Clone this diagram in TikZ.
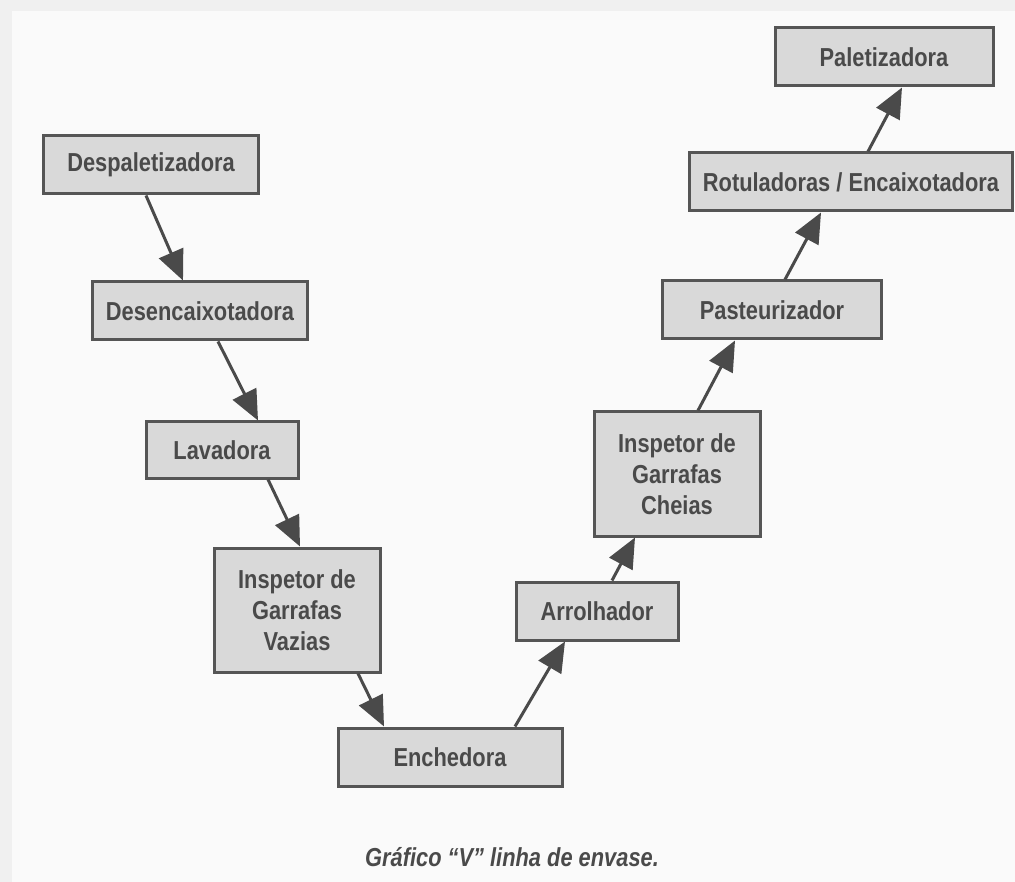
\documentclass[tikz,border=0pt]{standalone}
\usepackage{fontspec}
\setmainfont{Liberation Sans}[FakeStretch=0.84]
\usetikzlibrary{arrows.meta}
\definecolor{ink}{HTML}{4A4A4A}
\definecolor{boxfill}{HTML}{D9D9D9}
\definecolor{boxline}{HTML}{555555}
\tikzset{
  stepbox/.style={draw=boxline, line width=3pt, fill=boxfill, text=ink,
    font=\fontsize{26}{31}\selectfont\bfseries, align=center, inner sep=0pt,
    minimum height=58pt},
  flow/.style={draw=ink, line width=3pt,
    -{Triangle[length=30pt,width=26pt]}}
}
\begin{document}
\begin{tikzpicture}[x=1pt,y=-1pt]
\useasboundingbox (0,0) rectangle (1015,882);
\fill[fill=black!6] (0,0) rectangle (1015,882);
\fill[fill=black!2] (12,11) rectangle (1015,882);

\node[stepbox, minimum width=215pt] (desp) at (151,165) {Despaletizadora};
\node[stepbox, minimum width=215pt] (desenc) at (200,311) {Desencaixotadora};
\node[stepbox, minimum width=152pt, minimum height=56pt] (lav) at (222,450) {Lavadora};
\node[stepbox, minimum width=166pt, minimum height=124pt] (insv) at (297,610) {Inspetor de\\Garrafas\\Vazias};
\node[stepbox, minimum width=224pt] (ench) at (450,757) {Enchedora};
\node[stepbox, minimum width=162pt] (arro) at (597,611) {Arrolhador};
\node[stepbox, minimum width=166pt, minimum height=124pt] (insc) at (677,474) {Inspetor de\\Garrafas\\Cheias};
\node[stepbox, minimum width=219pt] (past) at (772,310) {Pasteurizador};
\node[stepbox, minimum width=323pt] (rot) at (851,182) {Rotuladoras / Encaixotadora};
\node[stepbox, minimum width=218pt] (pal) at (884,57) {Paletizadora};

\draw[flow] ([xshift=-5pt]desp.south) -- ([xshift=-17pt]desenc.north);
\draw[flow] ([xshift=18pt]desenc.south) -- ([xshift=36pt]lav.north);
\draw[flow] ([xshift=46pt]lav.south) -- ([xshift=3pt]insv.north);
\draw[flow] ([xshift=61pt]insv.south) -- ([xshift=-66pt]ench.north);
\draw[flow] ([xshift=65pt]ench.north) -- ([xshift=-32pt]arro.south);
\draw[flow] ([xshift=15pt]arro.north) -- ([xshift=-42pt]insc.south);
\draw[flow] ([xshift=21pt]insc.north) -- ([xshift=-37pt]past.south);
\draw[flow] ([xshift=13pt]past.north) -- ([xshift=-30pt]rot.south);
\draw[flow] ([xshift=17pt]rot.north) -- ([xshift=18pt]pal.south);

\node[text=ink, font=\fontsize{26}{31}\selectfont\bfseries\itshape] (cap) at (512,857) {Gráfico “V” linha de envase.};
\end{tikzpicture}
\end{document}
